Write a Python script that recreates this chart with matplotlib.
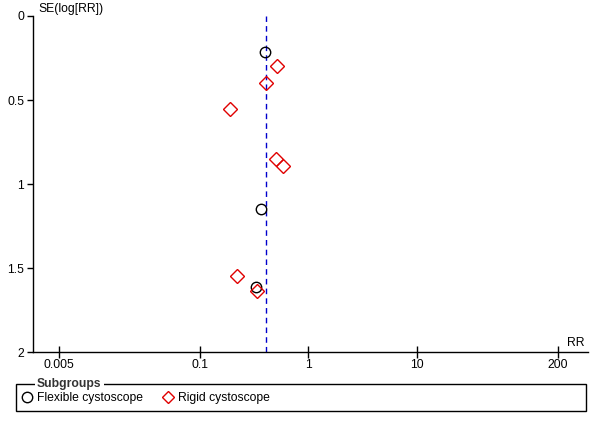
import matplotlib
matplotlib.use("Agg")
import matplotlib.pyplot as plt
from matplotlib.lines import Line2D
from matplotlib.patches import Rectangle
import numpy as np

plt.rcParams['font.family'] = ['Liberation Sans', 'DejaVu Sans']
plt.rcParams['font.size'] = 8.7

# study estimates
flex_rr = [0.397, 0.363, 0.333]
flex_se = [0.216, 1.149, 1.611]
rigid_rr = [0.51, 0.405, 0.188, 0.50, 0.59, 0.22, 0.335]
rigid_se = [0.299, 0.401, 0.554, 0.848, 0.893, 1.546, 1.633]
pooled_rr = 0.406

x_ticks = [0.005, 0.1, 1, 10, 200]
x_labels = ['0.005', '0.1', '1', '10', '200']
y_ticks = [0, 0.5, 1, 1.5, 2]
y_labels = ['0', '0.5', '1', '1.5', '2']

fig = plt.figure(figsize=(6, 4.28), dpi=100)
ax = fig.add_axes([32.5 / 600, 1 - 352.3 / 428, 555.5 / 600, 336.3 / 428])

ax.axvline(pooled_rr, color='#0000cc', linestyle=(0, (4, 3)), linewidth=1.0, zorder=1)
ax.plot(flex_rr, flex_se, 'o', mfc='none', mec='black', ms=7.5, mew=1.0, zorder=3)
ax.plot(rigid_rr, rigid_se, 'D', mfc='none', mec='#e00000', ms=7, mew=1.0, zorder=3)

ax.set_xscale('log')
ax.set_xlim(10 ** -2.542, 10 ** 2.578)
ax.set_ylim(2, 0)
ax.set_xticks(x_ticks)
ax.set_xticklabels(x_labels)
ax.minorticks_off()
ax.set_yticks(y_ticks)
ax.set_yticklabels(y_labels)

for s in ['top', 'right']:
    ax.spines[s].set_visible(False)
ax.spines['left'].set_linewidth(1.0)
ax.spines['bottom'].set_linewidth(1.0)
ax.tick_params(axis='x', direction='inout', length=8, width=1.0, pad=1)
ax.tick_params(axis='y', direction='out', length=4, width=1.0, pad=2)

fig.text(38 / 600, 1 - 9 / 428, 'SE(log[RR])', ha='left', va='center')
fig.text(584 / 600, 1 - 343 / 428, 'RR', ha='right', va='center')

# legend box with title sitting on its top edge
fig.patches.append(Rectangle((16.3 / 600, 1 - 411 / 428), 570 / 600, 27 / 428,
                             transform=fig.transFigure, fill=False,
                             edgecolor='black', linewidth=1.0))
fig.text(37 / 600, 1 - 384 / 428, 'Subgroups', ha='left', va='center',
         fontweight='bold', color='#333333',
         bbox=dict(facecolor='white', edgecolor='none', pad=1.5))
handles = [
    Line2D([], [], marker='o', linestyle='none', mfc='none', mec='black', ms=7.5, mew=1.0),
    Line2D([], [], marker='D', linestyle='none', mfc='none', mec='#e00000', ms=6, mew=1.0),
]
fig.legend(handles, ['Flexible cystoscope', 'Rigid cystoscope'], loc='center left',
           bbox_to_anchor=(10 / 600, 1 - 398 / 428), ncol=2, frameon=False,
           handlelength=1.0, handletextpad=0.3, columnspacing=1.6, fontsize=8.7)

fig.savefig('out.png', dpi=100)
